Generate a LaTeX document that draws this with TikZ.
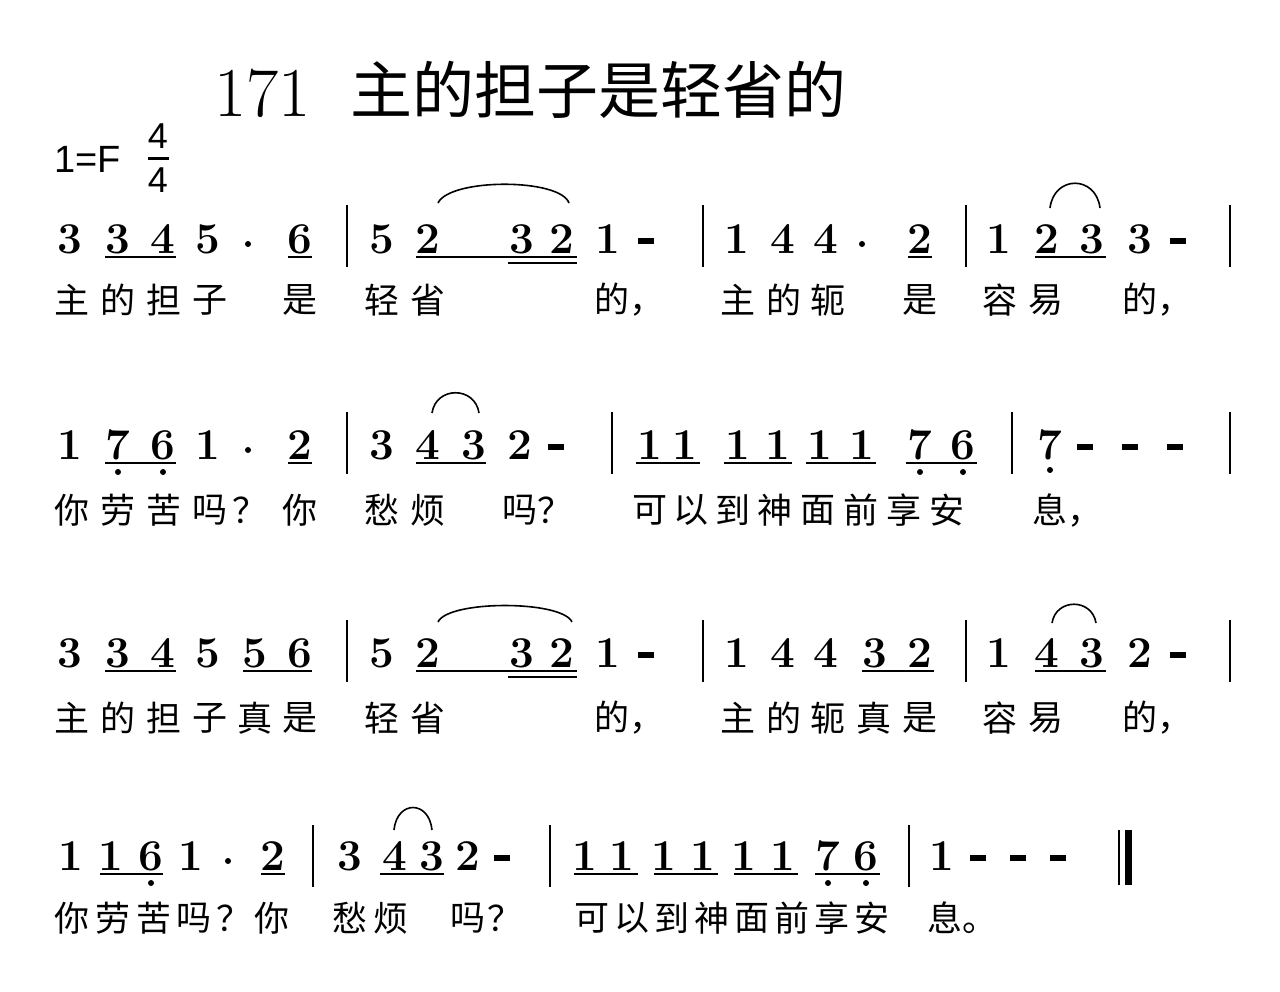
\documentclass[tikz,border=0pt]{standalone}
\usepackage{fontspec}
\newfontfamily\cjk{Noto Sans CJK SC}[Scale=1]
\newfontfamily\lsans{Liberation Sans}
\newcommand\nsz{\fontsize{44}{44}\selectfont\bfseries}
\begin{document}
\begin{tikzpicture}[x=1pt,y=-1pt,
  note/.style={anchor=base,inner sep=0pt,font=\nsz},
  lyr/.style={anchor=center,inner sep=0pt,font=\cjk\fontsize{35}{35}\selectfont},
  lyw/.style={anchor=west,inner sep=0pt,font=\cjk\fontsize{35}{35}\selectfont},
  ul/.style={line width=2pt},
  bar/.style={line width=1.6pt},
  slur/.style={line width=1.6pt}]
\useasboundingbox (0,0) rectangle (1280,991);
% title
\node[anchor=base west,inner sep=0pt,font=\fontsize{70}{70}\selectfont] (t1) at (214,116) {171};
\node[anchor=base west,inner sep=0pt,font=\cjk\fontsize{62}{62}\selectfont] (t2) at (350,113) {主的担子是轻省的};
\node[anchor=base west,inner sep=0pt,font=\lsans\fontsize{38}{38}\selectfont] (key) at (54,172) {1=F};
\node[inner sep=0pt,font=\lsans\fontsize{36}{36}\selectfont] (m1) at (158,136) {4};
\node[inner sep=0pt,font=\lsans\fontsize{36}{36}\selectfont] (m2) at (158,180) {4};
\draw[line width=3pt] (148,158) -- (169,158);
% helpers
\newcommand\notes[2]{\foreach \x/\d in {#2}{\node[note] at (\x,#1) {\d};}}
\newcommand\lyrics[2]{\foreach \x/\c in {#2}{\node[lyr] at (\x,#1) {\c};}}
\newcommand\dashes[2]{\foreach \x in {#2}{\fill (\x-8,#1-15) rectangle (\x+8,#1-9);}}
\newcommand\adot[2]{\fill (#2,#1-9) circle (3pt);}
\newcommand\ldot[2]{\foreach \x in {#2}{\fill (\x,#1+13) circle (3pt);}}
\newcommand\bars[3]{\foreach \x in {#3}{\draw[bar] (\x,#1) -- (\x,#2);}}
% ---------- row 1 ----------
\notes{253}{70/3,118/3,163/4,208/5,300/6,382/5,428/2,522/3,562/2,608/1,737/1,783/4,826/4,920/2,999/1,1047/2,1092/3,1140/3}
\adot{253}{248}\adot{253}{862}
\dashes{253}{646,1178}
\bars{205}{267}{347,703,966,1230}
\draw[ul] (105,257)--(176,257); \draw[ul] (288,257)--(312,257);
\draw[ul] (416,257)--(577,257); \draw[ul] (508,263)--(577,263);
\draw[ul] (908,257)--(932,257); \draw[ul] (1035,257)--(1106,257);
\draw[slur] (438,203) .. controls (450,178) and (560,178) .. (569,203);
\draw[slur] (1050,208) .. controls (1054,175) and (1096,175) .. (1100,208);
\lyrics{300}{72/主,118/的,164/担,210/子,300/是,382/轻,428/省,738/主,784/的,828/轭,920/是,1000/容,1046/易}
\node[lyw] at (594,300) {的，};
\node[lyw] at (1122,300) {的，};
% ---------- row 2 ----------
\notes{459}{70/1,118/7,163/6,208/1,300/2,382/3,428/4,474/3,520/2,650/1,685/1,738/1,778/1,820/1,862/1,920/7,963/6,1050/7}
\adot{459}{248}
\dashes{459}{556,1085,1130,1175}
\ldot{459}{118,163,920,963}
\fill (1050,470) circle (3pt);
\bars{412}{474}{347,612,1012,1230}
\draw[ul] (105,463)--(176,463); \draw[ul] (288,463)--(312,463);
\draw[ul] (416,463)--(486,463);
\draw[ul] (636,463)--(700,463); \draw[ul] (724,463)--(792,463);
\draw[ul] (806,463)--(876,463); \draw[ul] (906,463)--(977,463);
\draw[slur] (432,413) .. controls (436,386) and (475,386) .. (479,413);
\lyrics{510}{72/你,118/劳,164/苦,210/吗,250/？,300/你,382/愁,428/烦,520/吗,555/？,650/可,691/以,733/到,775/神,818/面,861/前,904/享,947/安}
\node[lyw] at (1032,510) {息，};
% ---------- row 3 ----------
\notes{667}{70/3,118/3,163/4,208/5,255/5,300/6,382/5,428/2,522/3,562/2,608/1,737/1,783/4,826/4,875/3,920/2,999/1,1047/4,1092/3,1140/2}
\dashes{667}{646,1178}
\bars{620}{682}{347,703,966,1230}
\draw[ul] (105,671)--(176,671); \draw[ul] (243,671)--(312,671);
\draw[ul] (416,671)--(577,671); \draw[ul] (508,677)--(577,677);
\draw[ul] (862,671)--(934,671); \draw[ul] (1035,671)--(1106,671);
\draw[slur] (438,622) .. controls (448,600) and (562,600) .. (572,622);
\draw[slur] (1052,623) .. controls (1056,598) and (1092,598) .. (1096,623);
\lyrics{718}{72/主,118/的,164/担,210/子,255/真,300/是,382/轻,428/省,738/主,784/的,828/轭,874/真,920/是,1000/容,1046/易}
\node[lyw] at (594,718) {的，};
\node[lyw] at (1122,718) {的，};
% ---------- row 4 ----------
\notes{870}{71/1,111/1,151/6,191/1,273/2,350/3,395/4,432/3,468/2,585/1,622/1,664/1,703/1,744/1,783/1,828/7,866/6,942/1}
\adot{870}{228}
\dashes{870}{502,978,1018,1058}
\ldot{870}{151,828,866}
\bars{825}{887}{313,550,909}
\draw[bar] (1119,830)--(1119,885);
\fill (1125,830) rectangle (1132,885);
\draw[ul] (100,874)--(163,874); \draw[ul] (261,874)--(285,874);
\draw[ul] (380,874)--(444,874);
\draw[ul] (574,874)--(638,874); \draw[ul] (654,874)--(718,874);
\draw[ul] (734,874)--(798,874); \draw[ul] (815,874)--(880,874);
\draw[slur] (394,830) .. controls (397,800) and (429,800) .. (432,830);
\lyrics{918}{72/你,113/劳,154/苦,194/吗,234/？,272/你,350/愁,391/烦,468/吗,505/？,592/可,632/以,672/到,712/神,752/面,792/前,832/享,872/安}
\node[lyw] at (927,918) {息。};
\end{tikzpicture}
\end{document}
